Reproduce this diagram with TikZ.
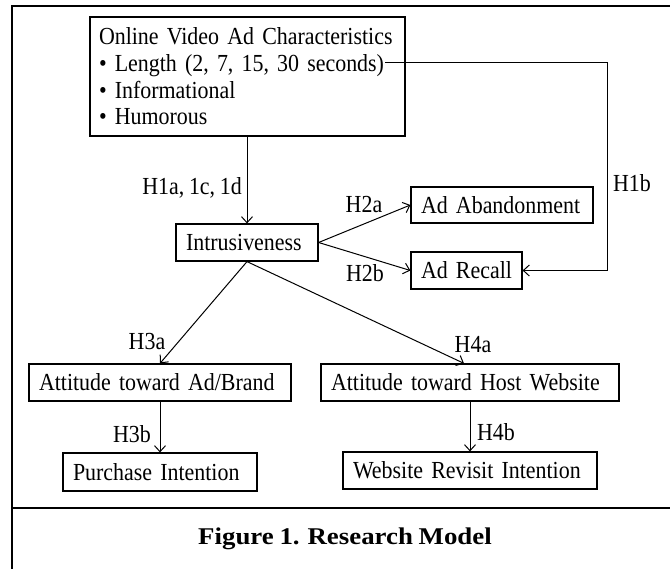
\documentclass[tikz,border=0pt]{standalone}
\usepackage{fontspec}
\setmainfont[FakeStretch=0.895,WordSpace=0.85]{Liberation Serif}
\usetikzlibrary{arrows.meta}
\begin{document}
\begin{tikzpicture}[x=1pt,y=-1pt,
  box/.style={draw,line width=1.2pt,inner xsep=10pt,inner ysep=0pt,align=left,
    font=\fontsize{24.5}{26.7}\selectfont},
  lbl/.style={font=\fontsize{24.5}{26.7}\selectfont,inner sep=0pt},
  conn/.style={line width=1pt,-{Straight Barb[length=6pt,width=11pt,line width=1pt]}},
  frameline/.style={line width=2pt}]
\useasboundingbox (0,0) rectangle (670,569);
% frame
\coordinate (ftl) at (12,6);
\coordinate (ftr) at (670,6);
\coordinate (fbl) at (12,569);
\coordinate (fml) at (12,508);
\coordinate (fmr) at (670,508);
\draw[frameline] (fbl) -- (ftl) -- (ftr);
\draw[frameline] (fml) -- (fmr);
% nodes
\node[box,inner xsep=9pt,text width=297pt,minimum height=119pt] (chars) at (247.5,76.5)
  {\mbox{Online Video Ad Characteristics}\\
   \mbox{• Length (2, 7, 15, 30 seconds)}\\
   \mbox{• Informational}\\
   \mbox{• Humorous}};
\coordinate (lenend) at (385,63);
\node[box,text width=122pt,minimum height=37pt] (intr) at (247,242.5) {\mbox{Intrusiveness}};
\node[box,text width=162pt,minimum height=36pt] (aban) at (502,205) {\mbox{Ad Abandonment}};
\node[box,text width=91pt,minimum height=37pt] (recall) at (466.5,270.5) {\mbox{Ad Recall}};
\node[box,text width=242pt,minimum height=37pt] (attad) at (160,382.5) {\mbox{Attitude toward Ad/Brand}};
\node[box,text width=278pt,minimum height=37pt] (atthost) at (470,382.5) {\mbox{Attitude toward Host Website}};
\node[box,text width=174pt,minimum height=38pt] (purch) at (160,472) {\mbox{Purchase Intention}};
\node[box,text width=234pt,minimum height=37pt] (revisit) at (470,470.5) {\mbox{Website Revisit Intention}};
% connectors
\draw[conn] (chars.south -| intr.north) -- (intr.north);
\draw[conn] (intr.east) -- (aban.west);
\draw[conn] (intr.east) -- (recall.west);
\coordinate (h1bturn) at (607,63);
\draw[conn] (lenend) -- (h1bturn) |- (recall.east);
\draw[conn] (intr.south) -- (attad.north);
\draw[conn] (intr.south) -- ([xshift=-6pt]atthost.north);
\draw[conn] (attad.south) -- (purch.north);
\draw[conn] (atthost.south) -- (revisit.north);
% labels
\node[lbl,anchor=east] (l1a) at (242,188) {H1a, 1c, 1d};
\node[lbl] (l1b) at (632,183) {H1b};
\node[lbl] (l2a) at (364,205) {H2a};
\node[lbl] (l2b) at (365,273) {H2b};
\node[lbl] (l3a) at (147,342) {H3a};
\node[lbl] (l4a) at (473,345) {H4a};
\node[lbl] (l3b) at (132,434) {H3b};
\node[lbl] (l4b) at (496,432) {H4b};
% caption
\node[font=\fontsize{24}{28}\selectfont\bfseries,inner sep=0pt] (cap) at (345,539)
  {\scalebox{1.25}[1]{Figure 1. Research Model}};
\end{tikzpicture}
\end{document}
